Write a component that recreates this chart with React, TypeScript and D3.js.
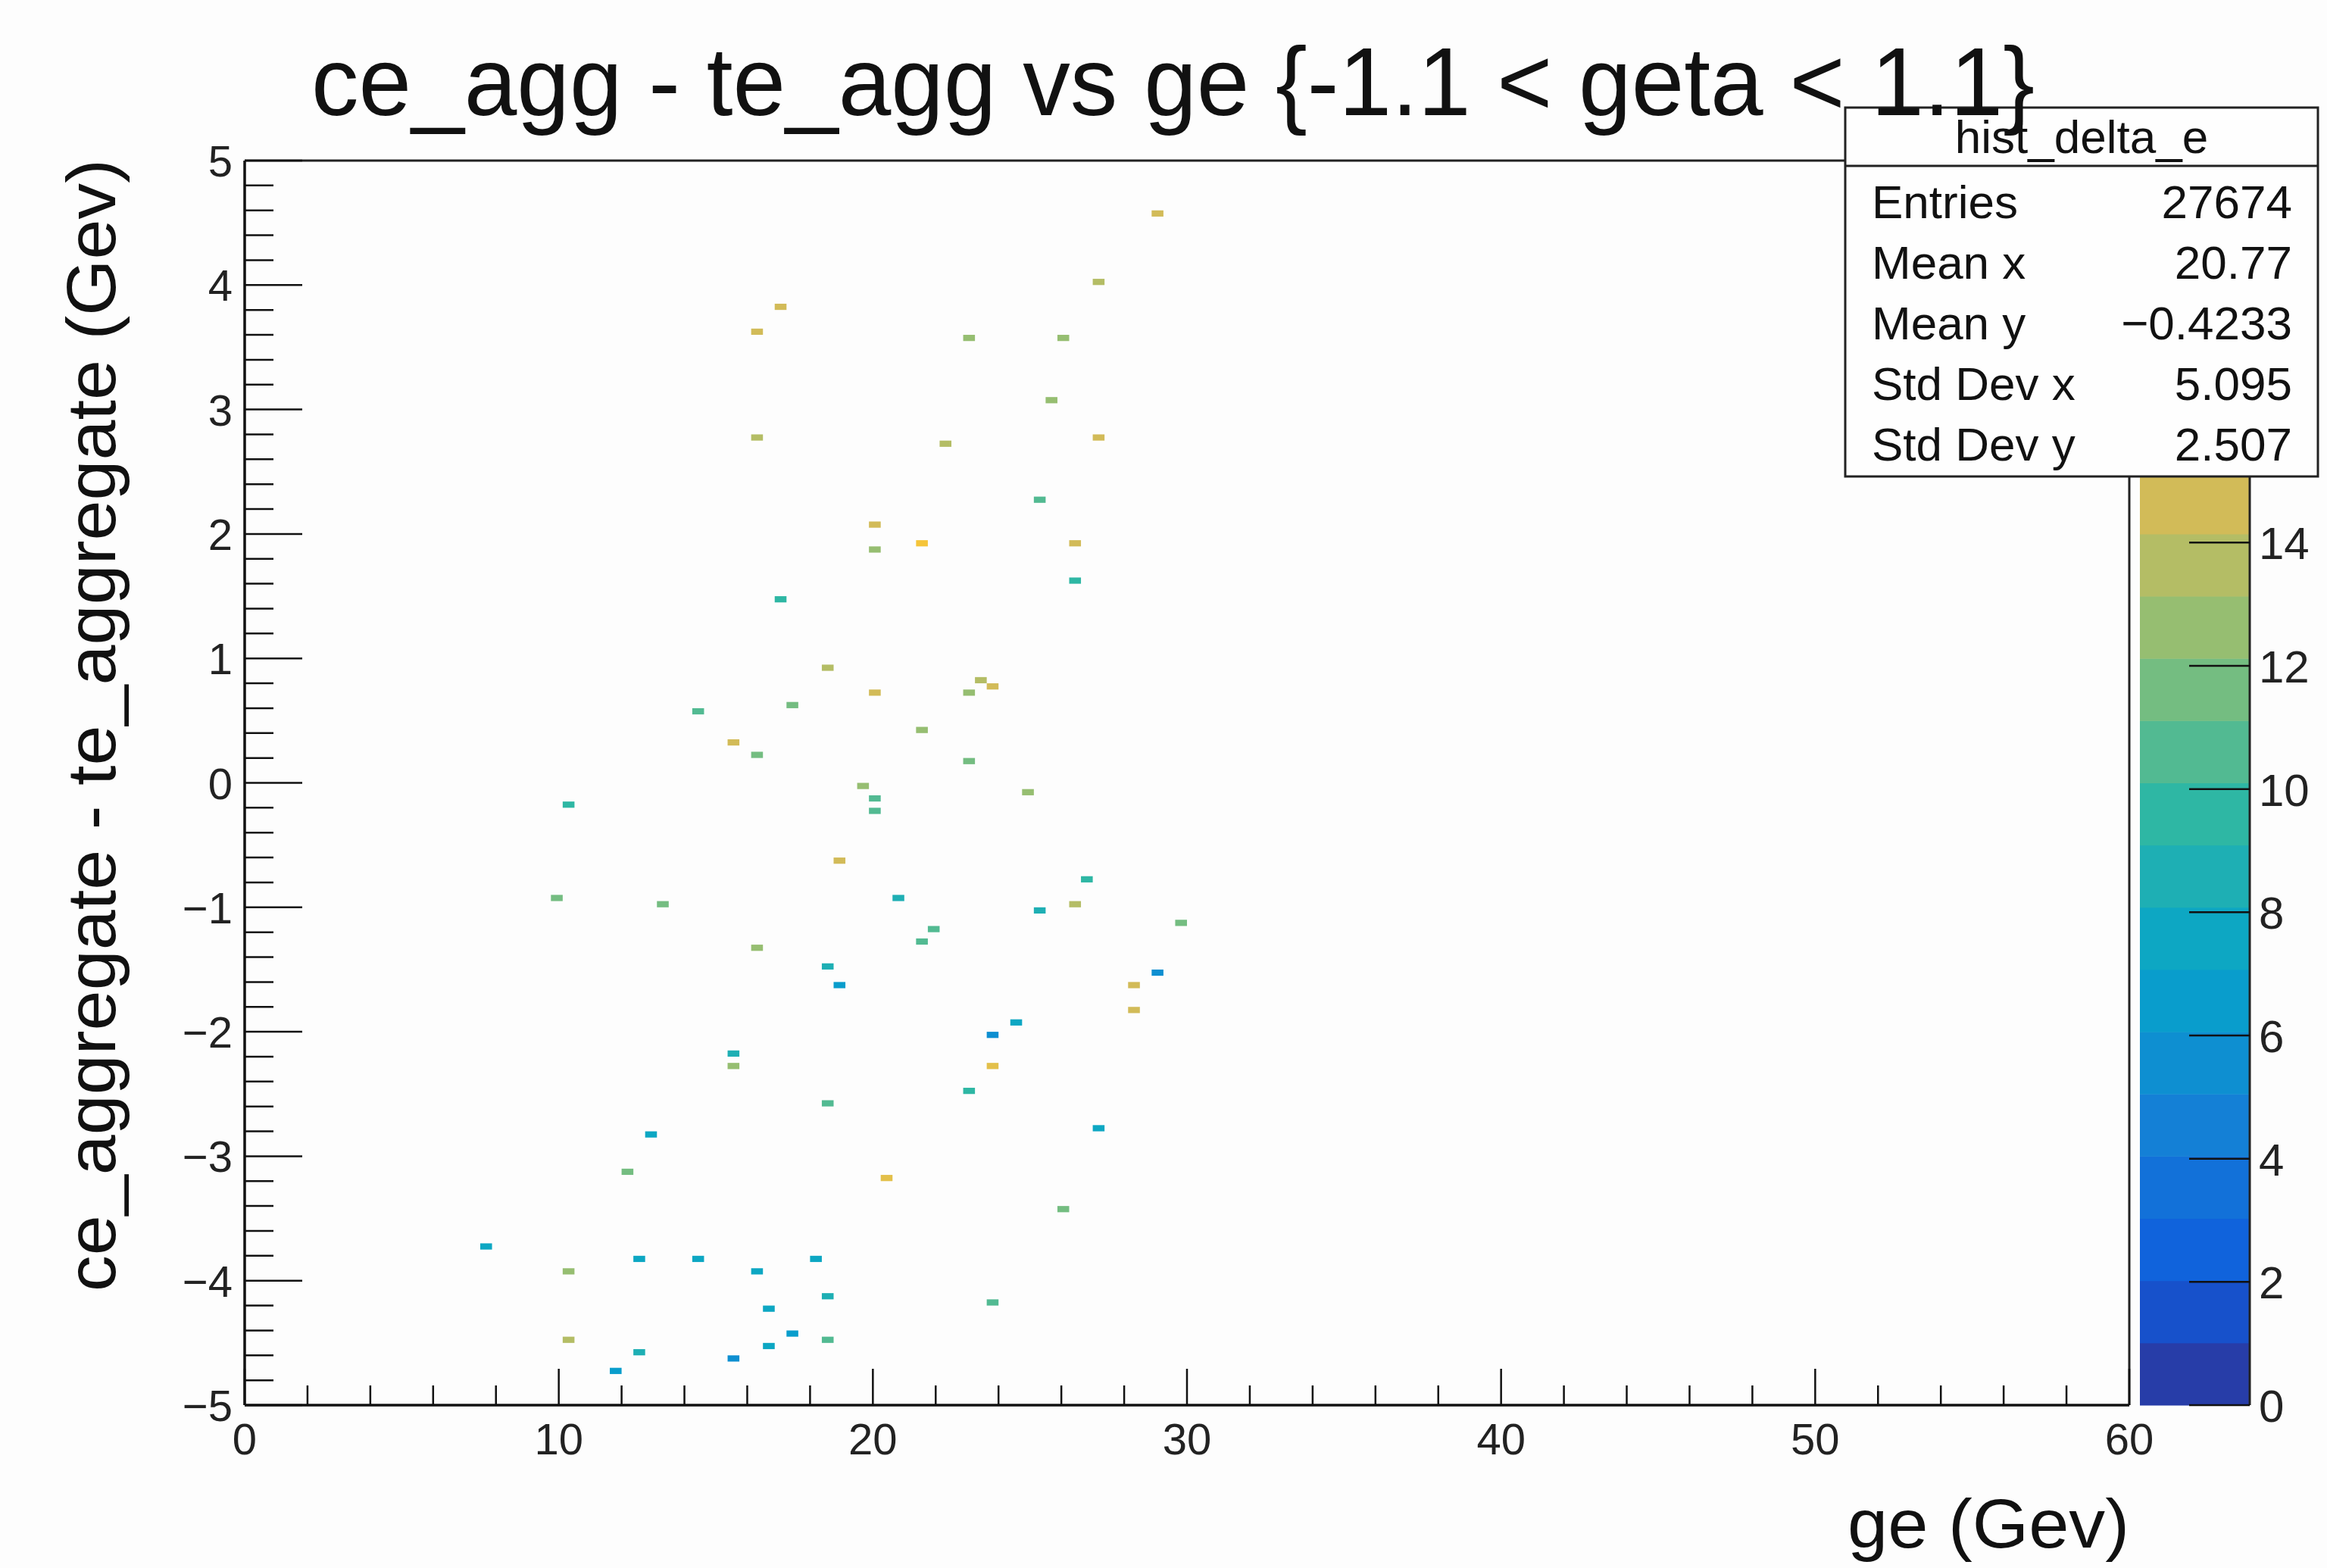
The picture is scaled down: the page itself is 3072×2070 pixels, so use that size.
import React from 'react';
import * as d3 from 'd3';

const W = 3072;
const H = 2070;

// ---- data ----
const cellGe = [
  28.9, 27.1, 17.2, 16.3, 23.2, 25.9, 25.65, 16.3, 22.3, 27.35,
  25.3, 20.2, 21.45, 20.2, 26.5, 26.5, 17.2, 18.45, 23.55, 23.85,
  22.9, 20.2, 17.5, 14.55, 21.45, 15.7, 16.3, 22.9, 19.6, 19.95,
  19.95, 25.05, 10.35, 18.95, 10.05, 13.3, 20.8, 26.85, 26.5, 25.3,
  29.85, 22.0, 21.7, 16.3, 18.7, 19.0, 29.2, 28.3, 28.3, 24.7,
  23.8, 15.4, 15.4, 23.8, 18.7, 22.9, 13.05, 27.35, 12.05, 20.5,
  25.95, 7.6, 10.35, 12.7, 14.25, 16.3, 18.15, 18.7, 16.6, 23.8,
  17.5, 18.45, 10.35, 16.6, 12.4, 15.4, 11.8
];
const cellDelta = [
  4.55, 4.0, 3.8, 3.63, 3.6, 3.6, 3.1, 2.78, 2.73, 2.78,
  2.28, 2.1, 1.92, 1.88, 1.94, 1.64, 1.48, 0.92, 0.85, 0.8,
  0.74, 0.74, 0.63, 0.57, 0.44, 0.35, 0.23, 0.18, -0.02, -0.11,
  -0.22, -0.06, -0.16, -0.62, -0.91, -0.96, -0.91, -0.78, -0.96, -1.02,
  -1.12, -1.18, -1.29, -1.32, -1.47, -1.63, -1.52, -1.63, -1.82, -1.92,
  -2.03, -2.18, -2.27, -2.27, -2.59, -2.48, -2.82, -2.77, -3.13, -3.17,
  -3.44, -3.72, -3.94, -3.84, -3.84, -3.94, -3.84, -4.13, -4.24, -4.18,
  -4.4, -4.49, -4.49, -4.53, -4.58, -4.63, -4.74
];
const cellCount = [
  15, 14, 15, 15, 13, 13, 13, 14, 14, 15,
  11, 15, 17, 13, 15, 10, 10, 14, 14, 15,
  13, 15, 12, 11, 13, 15, 12, 12, 13, 11,
  11, 13, 10, 15, 12, 12, 9, 10, 14, 9,
  12, 11, 11, 13, 9, 7, 6, 15, 15, 8,
  6, 9, 13, 16, 11, 10, 8, 8, 12, 16,
  12, 8, 13, 8, 8, 8, 8, 9, 8, 11,
  7, 11, 14, 8, 9, 6, 7
];

const xTickValues = [0, 10, 20, 30, 40, 50, 60];
const yTickValues = [-5, -4, -3, -2, -1, 0, 1, 2, 3, 4, 5];
const zTickValues = [0, 2, 4, 6, 8, 10, 12, 14];

const statsTitle = 'hist_delta_e';
const statsLabels = ['Entries', 'Mean x', 'Mean y', 'Std Dev x', 'Std Dev y'];
const statsValues = ['27674', '20.77', '\u22120.4233', '5.095', '2.507'];

const titleText = 'ce_agg - te_agg vs ge {-1.1 < geta < 1.1}';
const xTitle = 'ge (Gev)';
const yTitle = 'ce_aggregate - te_aggregate (Gev)';

// kBird palette stops (ROOT)
const birdR = [0.2082, 0.0592, 0.078, 0.0232, 0.1802, 0.5301, 0.8186, 0.9956, 0.9764];
const birdG = [0.1664, 0.3599, 0.5041, 0.6419, 0.7178, 0.7492, 0.7328, 0.7862, 0.9832];
const birdB = [0.5293, 0.8684, 0.8385, 0.7914, 0.6425, 0.4662, 0.3499, 0.1968, 0.0539];

const X_MIN = 0, X_MAX = 60, NBX = 160;
const Y_MIN = -5, Y_MAX = 5, NBY = 200;
const Z_MAX = 20.2;
const N_CONT = 20;

const FONT = "'Liberation Sans', Arial, Helvetica, sans-serif";

export default function App() {
  const left = 323, right = 2811, top = 212, bottom = 1855;
  const x = d3.scaleLinear().domain([X_MIN, X_MAX]).range([left, right]);
  const y = d3.scaleLinear().domain([Y_MIN, Y_MAX]).range([bottom, top]);
  const z = d3.scaleLinear().domain([0, Z_MAX]).range([bottom, top]);

  const stopColors = birdR.map((r, i) => d3.rgb(r * 255, birdG[i] * 255, birdB[i] * 255).toString());
  const interp = d3.piecewise(d3.interpolateRgb, stopColors);
  const palette = d3.range(255).map((i) => interp(i / 254));
  const levelColor = (lvl: number) => palette[Math.min(254, Math.floor((lvl + 0.99) * 255 / N_CONT))];
  const zColor = (v: number) => levelColor(Math.min(N_CONT - 1, Math.floor(0.01 + v * N_CONT / Z_MAX)));

  const dx = (X_MAX - X_MIN) / NBX;
  const dy = (Y_MAX - Y_MIN) / NBY;
  const cells = cellGe.map((g, i) => {
    const bx = Math.floor((g - X_MIN) / dx);
    const by = Math.floor((cellDelta[i] - Y_MIN) / dy);
    const x0 = X_MIN + bx * dx;
    const y0 = Y_MIN + by * dy;
    return {
      x: x(x0), y: y(y0 + dy), w: x(x0 + dx) - x(x0), h: y(y0) - y(y0 + dy),
      fill: zColor(cellCount[i]),
    };
  });

  const xMinor = d3.range(0, 61, 2).filter((v) => v % 10 !== 0);
  const yMinor = d3.range(-50, 51, 2).map((v) => v / 10).filter((v) => Math.abs(v - Math.round(v)) > 1e-6);

  const cbLeft = 2825, cbRight = 2970;
  const bands = d3.range(N_CONT).map((i) => ({
    y0: z((i + 1) * Z_MAX / N_CONT), y1: z(i * Z_MAX / N_CONT), fill: levelColor(i),
  }));

  const fmt = (v: number) => (v < 0 ? '\u2212' + Math.abs(v) : String(v));

  return (
    <svg width={W} height={H} viewBox={`0 0 ${W} ${H}`} style={{ position: 'absolute', left: 0, top: 0, background: '#fdfdfd' }}
      fontFamily={FONT}>
      <rect x={0} y={0} width={W} height={H} fill="#fdfdfd" />

      {/* cells */}
      {cells.map((c, i) => (
        <rect key={i} x={c.x} y={c.y} width={c.w} height={c.h} fill={c.fill} />
      ))}

      {/* frame */}
      <line x1={left} x2={right} y1={top} y2={top} stroke="#222" strokeWidth={3} />
      <line x1={right} x2={right} y1={top} y2={bottom} stroke="#222" strokeWidth={3} />

      {/* x axis */}
      <line x1={left} x2={right} y1={bottom} y2={bottom} stroke="#111" strokeWidth={3.5} />
      {xTickValues.map((v) => (
        <g key={'xt' + v}>
          <line x1={x(v)} x2={x(v)} y1={bottom} y2={bottom - 48} stroke="#111" strokeWidth={2.5} />
          <text x={x(v)} y={1920} fontSize={58} textAnchor="middle" fill="#222">{fmt(v)}</text>
        </g>
      ))}
      {xMinor.map((v) => (
        <line key={'xm' + v} x1={x(v)} x2={x(v)} y1={bottom} y2={bottom - 26} stroke="#111" strokeWidth={2.5} />
      ))}

      {/* y axis */}
      <line x1={left} x2={left} y1={top} y2={bottom} stroke="#111" strokeWidth={3.5} />
      {yTickValues.map((v) => (
        <g key={'yt' + v}>
          <line x1={left} x2={left + 76} y1={y(v)} y2={y(v)} stroke="#111" strokeWidth={2.5} />
          <text x={307} y={y(v) + 21} fontSize={58} textAnchor="end" fill="#222">{fmt(v)}</text>
        </g>
      ))}
      {yMinor.map((v) => (
        <line key={'ym' + v} x1={left} x2={left + 38} y1={y(v)} y2={y(v)} stroke="#111" strokeWidth={2.5} />
      ))}

      {/* color bar */}
      {bands.map((b, i) => (
        <rect key={'b' + i} x={cbLeft} y={b.y0} width={cbRight - cbLeft} height={b.y1 - b.y0 + 0.5} fill={b.fill} />
      ))}
      <line x1={cbRight} x2={cbRight} y1={top} y2={bottom} stroke="#222" strokeWidth={3} />
      {zTickValues.map((v) => (
        <g key={'zt' + v}>
          <line x1={cbRight} x2={cbRight - 80} y1={z(v)} y2={z(v)} stroke="#111" strokeWidth={2.5} />
          <text x={2982} y={z(v) + 22} fontSize={60} textAnchor="start" fill="#222">{v}</text>
        </g>
      ))}

      {/* axis titles */}
      <text x={2439} y={2043} fontSize={90} textLength={372} lengthAdjust="spacingAndGlyphs" fill="#111">{xTitle}</text>
      <text transform="translate(152,1705) rotate(-90)" fontSize={90} textLength={1495} lengthAdjust="spacingAndGlyphs" fill="#111">{yTitle}</text>

      {/* stats box */}
      <rect x={2436} y={142} width={624} height={487} fill="#fefefe" stroke="#222" strokeWidth={3} />
      <line x1={2436} x2={3060} y1={219} y2={219} stroke="#222" strokeWidth={3} />
      <text x={2748} y={202} fontSize={62} textAnchor="middle" fill="#111">{statsTitle}</text>
      {statsLabels.map((l, i) => (
        <g key={'s' + i}>
          <text x={2471} y={288 + i * 80} fontSize={62} fill="#111">{l}</text>
          <text x={3026} y={288 + i * 80} fontSize={62} textAnchor="end" fill="#111">{statsValues[i]}</text>
        </g>
      ))}

      {/* title */}
      <text x={411} y={152} fontSize={128} textLength={2275} lengthAdjust="spacingAndGlyphs" fill="#111">{titleText}</text>
    </svg>
  );
}
